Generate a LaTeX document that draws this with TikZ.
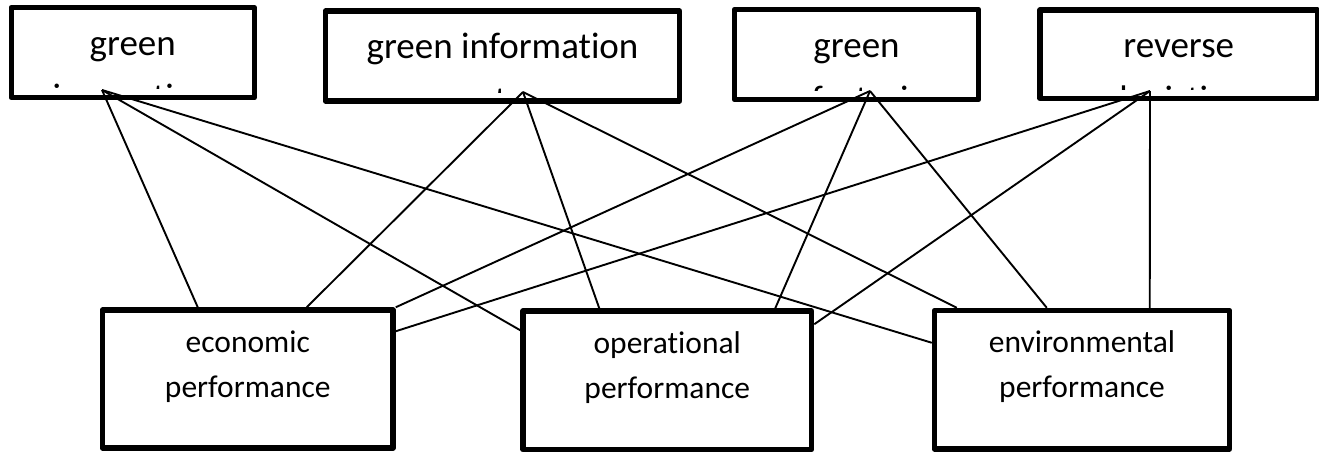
\documentclass[tikz,border=0pt]{standalone}
\usepackage{fontspec}
\setmainfont{Carlito}[Ligatures=NoCommon]
\usepackage{tikz}
\usetikzlibrary{positioning, calc}
\tikzset{
  factorbox/.style={draw, line width=5.5pt, line join=round, inner sep=0pt,
    minimum height=90pt},
  % base sits on the last line of a two-line caption
  factortext/.style={font=\fontsize{37}{54}\selectfont, align=center,
    anchor=base, inner sep=0pt},
  perfbox/.style={draw, line width=5.5pt, line join=round, inner sep=0pt,
    minimum height=138pt},
  perftext/.style={font=\fontsize{31.5}{45}\selectfont, align=center,
    anchor=base, inner sep=0pt},
  link/.style={line width=1.9pt},
}

\begin{document}
\begin{tikzpicture}[x=1pt, y=-1pt]
  \useasboundingbox (0,0) rectangle (1319,452);

  % practices (top row)
  \node[factorbox, minimum width=243pt] (gin) at (132.75,52.6) {};
  \node[factorbox, minimum width=354pt] (gis) at (502.5,56) {};
  \node[factorbox, minimum width=244pt] (gmf) at (856.5,54.5) {};
  \node[factorbox, minimum width=277.5pt, minimum height=88.5pt] (rlg) at (1178.75,54.25) {};

  % captions run past the text area, so cut them off
  \foreach \b/\t in {gin/{green\\innovation}, gis/{green information\\system},
      gmf/{green\\manufacturing\hspace*{42pt}}, rlg/{reverse\\logistics}} {
    \begin{scope}
      \clip ([yshift=11.5pt]\b.south west) rectangle (\b.north east);
      \node[factortext] (\b-text) at ([yshift=-104.25pt]\b.north) {\t};
    \end{scope}
  }

  % performance (bottom row)
  \node[perfbox, minimum width=290.5pt] (eco) at (247.75,379) {};
  \node[perfbox, minimum width=288.5pt, minimum height=138.5pt] (ope) at (667.25,380.25) {};
  \node[perfbox, minimum width=295pt, minimum height=138.5pt] (env) at (1082,379.75) {};

  \node[perftext] (eco-text) at ([yshift=-89.75pt]eco.north) {economic\\performance};
  \node[perftext] (ope-text) at ([yshift=-90pt]ope.north) {operational\\performance};
  \node[perftext] (env-text) at ([yshift=-90pt]env.north) {environmental\\performance};

  % where the links leave each practice box
  \coordinate (gin-hub) at (102,90);
  \coordinate (gis-hub) at (523,92);
  \coordinate (gmf-hub) at (870,91);
  \coordinate (rlg-hub) at (1150,91);

  \draw[link] (gin-hub) -- ([xshift=98pt]eco.north west);
  \draw[link] (gin-hub) -- ([yshift=-22pt]ope.north west);
  \draw[link] (gin-hub) -- ([yshift=-35pt]env.north west);

  \draw[link] (gis-hub) -- ([xshift=207pt]eco.north west);
  \draw[link] (gis-hub) -- ([xshift=79pt]ope.north west);
  \draw[link] (gis-hub) -- ([xshift=25pt]env.north west);

  \draw[link] (gmf-hub) -- (eco.north east);
  \draw[link] (gmf-hub) -- ([xshift=255pt]ope.north west);
  \draw[link] (gmf-hub) -- ([xshift=115pt]env.north west);

  \draw[link] (rlg-hub) -- ([yshift=-24pt]eco.north east);
  \draw[link] (rlg-hub) -- ([yshift=-16pt]ope.north east);
  \draw[link] (rlg-hub) -- ([xshift=218pt]env.north west);
\end{tikzpicture}
\end{document}
